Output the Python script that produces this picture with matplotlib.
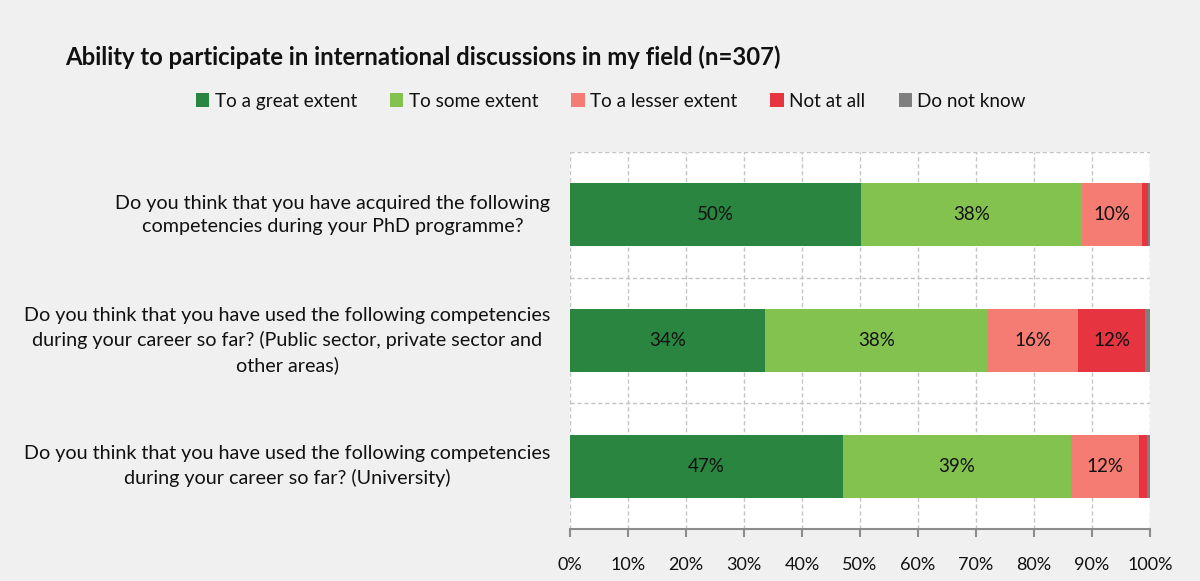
import matplotlib.pyplot as plt
import numpy as np
from matplotlib.ticker import FixedLocator, PercentFormatter

plt.rcParams['font.family'] = ['Lato', 'DejaVu Sans']

questions = [
    "Do you think that you have acquired the following\ncompetencies during your PhD programme?",
    "Do you think that you have used the following competencies\nduring your career so far? (Public sector, private sector and\nother areas)",
    "Do you think that you have used the following competencies\nduring your career so far? (University)",
]
answers = ["To a great extent", "To some extent", "To a lesser extent", "Not at all", "Do not know"]
colors = ["#2a8540", "#84c250", "#f47c72", "#e63440", "#7f7f7f"]

# share of respondents (%) per answer, one list per question
great_extent = [50.2, 33.6, 47.1]
some_extent = [38.1, 38.4, 39.3]
lesser_extent = [10.4, 15.6, 11.7]
not_at_all = [1.0, 11.6, 1.4]
do_not_know = [0.3, 0.8, 0.5]
series = [great_extent, some_extent, lesser_extent, not_at_all, do_not_know]

fig = plt.figure(figsize=(12, 5.81), dpi=100, facecolor="#f0f0f0")
ax = fig.add_axes([0.475, 0.0895, 0.4833, 0.649])
ax.set_facecolor("white")

y = np.arange(len(questions))
left = np.zeros(len(questions))
for vals, name, col in zip(series, answers, colors):
    vals = np.array(vals)
    ax.barh(y, vals, left=left, height=0.5, color=col, label=name, zorder=3)
    for yi, l, v in zip(y, left, vals):
        if v >= 5:
            ax.text(l + v / 2, yi, f"{v:.0f}%", ha="center", va="center",
                    fontsize=13.5, color="#111111", zorder=4)
    left += vals

ax.set_xlim(0, 100)
ax.set_ylim(2.5, -0.5)
ax.xaxis.set_major_locator(FixedLocator(np.arange(0, 101, 10)))
ax.xaxis.set_major_formatter(PercentFormatter(decimals=0))

# question labels as plain text so the line spacing sticks
ax.set_yticks([])
for yi, q in zip(y, questions):
    ax.text(-0.034, yi, q, transform=ax.get_yaxis_transform(), ha="right", va="center",
            multialignment="center", linespacing=1.45, fontsize=14.2, color="#111111")

ax.yaxis.set_minor_locator(FixedLocator([-0.5, 0.5, 1.5]))
ax.tick_params(axis="y", which="both", length=0)
ax.tick_params(axis="x", length=6, color="#8c8c8c", width=1.5, labelsize=13,
               labelcolor="#111111", pad=14)

ax.grid(axis="x", which="major", linestyle=(0, (3, 2)), color="#c4c4c4", linewidth=1, zorder=0)
ax.grid(axis="y", which="minor", linestyle=(0, (3, 2)), color="#c4c4c4", linewidth=1, zorder=0)
for s in ["top", "right", "left"]:
    ax.spines[s].set_visible(False)
ax.spines["bottom"].set_color("#8c8c8c")
ax.spines["bottom"].set_linewidth(1.5)

fig.text(0.054, 0.902, "Ability to participate in international discussions in my field (n=307)",
         fontsize=17.2, fontweight="bold", color="#111111", va="center")

fig.legend(loc="center", bbox_to_anchor=(0.509, 0.826), ncol=5, frameon=False,
           fontsize=13.6, handlelength=0.7, handleheight=0.7, handletextpad=0.3,
           columnspacing=1.75, labelcolor="#111111")

fig.savefig("out.png", dpi=100, facecolor=fig.get_facecolor())
